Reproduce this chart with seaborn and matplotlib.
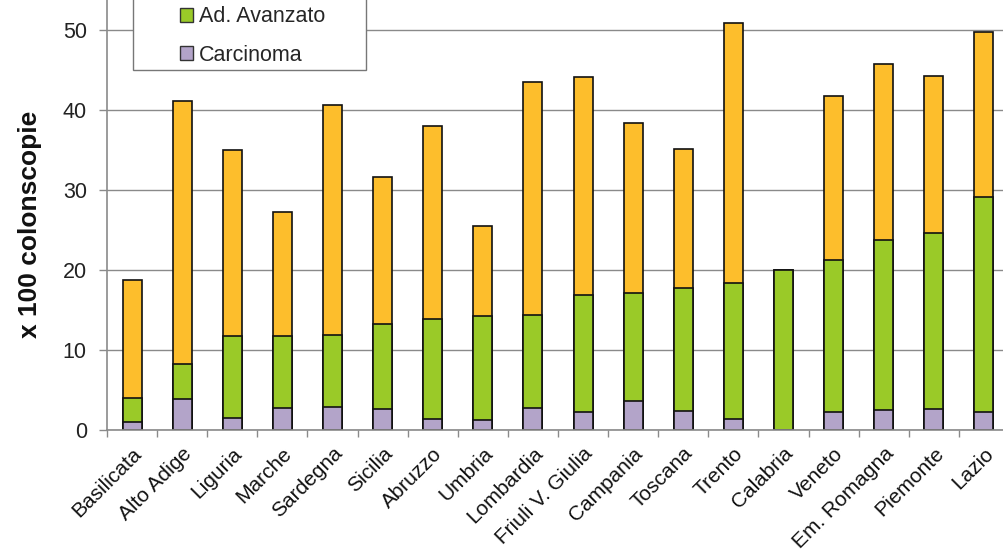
import numpy as np
import pandas as pd
import matplotlib
matplotlib.use("Agg")
import matplotlib.pyplot as plt
from matplotlib.patches import Patch, Rectangle
import seaborn as sns

# Regions and stacked segment values (x 100 colonoscopies)
regioni = ["Basilicata", "Alto Adige", "Liguria", "Marche", "Sardegna", "Sicilia",
           "Abruzzo", "Umbria", "Lombardia", "Friuli V. Giulia", "Campania", "Toscana",
           "Trento", "Calabria", "Veneto", "Em. Romagna", "Piemonte", "Lazio"]
carcinoma = [1.0, 3.9, 1.45, 2.7, 2.9, 2.6, 1.4, 1.3, 2.7, 2.2, 3.65, 2.35,
             1.4, 0.0, 2.25, 2.5, 2.6, 2.3]
ad_avanzato = [3.0, 4.3, 10.3, 9.05, 8.95, 10.65, 12.5, 12.95, 11.7, 14.7, 13.45, 15.4,
               17.0, 20.0, 19.05, 21.3, 22.0, 26.8]
adenoma = [14.7, 32.9, 23.25, 15.45, 28.75, 18.35, 24.1, 11.25, 29.1, 27.2, 21.3, 17.35,
           32.5, 0.0, 20.5, 21.95, 19.6, 20.6]

y_ticks = [0, 10, 20, 30, 40, 50]

C_ADEN = "#FDBE2C"
C_AVANZ = "#9ACA28"
C_CARC = "#B3A4C9"

df = pd.DataFrame({"regione": regioni, "carcinoma": carcinoma,
                   "ad_avanzato": ad_avanzato, "adenoma": adenoma})
df["top_avanz"] = df["carcinoma"] + df["ad_avanzato"]
df["top_tot"] = df["top_avanz"] + df["adenoma"]

sns.set_style("white")
plt.rcParams["font.family"] = ["Liberation Sans", "DejaVu Sans"]

fig = plt.figure(figsize=(10.04, 5.57), dpi=100)
ax = fig.add_axes([107 / 1004, 1 - 430 / 557, 1 - 107 / 1004, 430 / 557])

bar_kw = dict(order=regioni, width=0.38, saturation=1, errorbar=None,
              edgecolor="#111111", linewidth=1.2, ax=ax)
# Stack drawn from the full height down so each segment sits over the previous one
sns.barplot(data=df, x="regione", y="top_tot", color=C_ADEN, **bar_kw)
sns.barplot(data=df, x="regione", y="top_avanz", color=C_AVANZ, **bar_kw)
sns.barplot(data=df, x="regione", y="carcinoma", color=C_CARC, **bar_kw)

ax.set_xlim(-0.5, 17.4)
ax.set_ylim(0, 53.75)
ax.set_yticks(y_ticks)
ax.yaxis.grid(True, color="#8a8a8a", linewidth=1.0)
ax.xaxis.grid(False)
ax.set_axisbelow(True)

for side in ("top", "right"):
    ax.spines[side].set_visible(False)
for side in ("left", "bottom"):
    ax.spines[side].set_color("#8a8a8a")
    ax.spines[side].set_linewidth(1.2)

# Category labels centred under bars, tick marks on the category boundaries
ax.set_xticks(range(len(regioni)))
ax.set_xticklabels(regioni, rotation=45, ha="right", rotation_mode="anchor",
                   fontsize=15, color="#111111")
ax.set_xticks(np.arange(-0.5, len(regioni) - 0.5, 1.0), minor=True)
ax.tick_params(axis="x", which="major", length=0, pad=10)
ax.tick_params(axis="x", which="minor", length=5, width=1, color="#8a8a8a",
               direction="out", bottom=True)
ax.tick_params(axis="y", length=5.5, width=1, color="#8a8a8a", direction="out",
               left=True, pad=9, labelsize=15.5, labelcolor="#222222")

ax.set_xlabel("")
ax.set_ylabel("x 100 colonscopie", fontsize=19, fontweight="bold", color="#111111")
ax.yaxis.set_label_coords(-0.073, 0.478)

# Legend box
fig.add_artist(Rectangle((133 / 1004, 1 - 70 / 557), (366 - 133) / 1004, 90 / 557,
                         transform=fig.transFigure, facecolor="white",
                         edgecolor="#777777", linewidth=1.0, zorder=3))
handles = [Patch(facecolor=C_AVANZ, edgecolor="#333333", linewidth=1.0, label="Ad. Avanzato"),
           Patch(facecolor=C_CARC, edgecolor="#333333", linewidth=1.0, label="Carcinoma")]
leg = fig.legend(handles=handles, loc="center left",
                 bbox_to_anchor=(180 / 1004, 1 - 36 / 557), bbox_transform=fig.transFigure,
                 frameon=False, borderpad=0, borderaxespad=0, fontsize=15.5,
                 handlelength=0.62, handleheight=0.62, handletextpad=0.25,
                 labelspacing=0.8)
leg.set_zorder(4)

fig.savefig("out.png", dpi=100)
